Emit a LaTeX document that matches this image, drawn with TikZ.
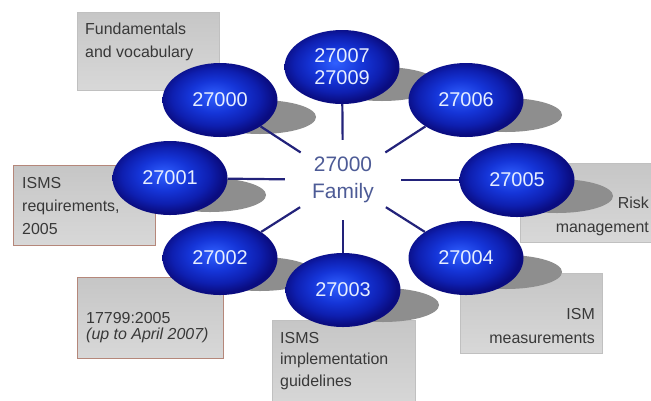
\documentclass[tikz,border=0pt]{standalone}
\usepackage{fontspec}
\setmainfont{Liberation Sans}
\usetikzlibrary{shapes.geometric,calc}
\definecolor{ellbright}{HTML}{3060FF}
\definecolor{ellmid}{HTML}{1535D8}
\definecolor{ellmid2}{HTML}{0E1FB0}
\definecolor{elldark}{HTML}{0A0C80}
\definecolor{shadgray}{HTML}{8E8E8E}
\definecolor{boxtop}{HTML}{C6C6C6}
\definecolor{boxbot}{HTML}{D8D8D8}
\definecolor{boxedge}{HTML}{C0C0C0}
\definecolor{brownedge}{HTML}{B5877A}
\definecolor{navyline}{HTML}{22227A}
\definecolor{famtext}{HTML}{4D5B96}
\definecolor{boxtext}{HTML}{383838}
\definecolor{elltext}{HTML}{E6EEFF}
\pgfdeclareradialshading{isoball}{\pgfpoint{-3bp}{3bp}}{color(0bp)=(ellbright); color(11bp)=(ellmid); color(19bp)=(ellmid2); color(25bp)=(elldark); color(50bp)=(elldark)}
\tikzset{
  ell/.style={ellipse, minimum width=115bp, minimum height=74bp, inner sep=0pt,
    shading=isoball, text=elltext, font=\fontsize{20}{22}\selectfont, align=center},
  shad/.style={ellipse, minimum width=112bp, minimum height=34bp, inner sep=0pt, fill=shadgray},
  gbox/.style={rectangle, anchor=north west, inner sep=0pt, top color=boxtop, bottom color=boxbot, draw=boxedge, line width=0.6bp},
  bbox/.style={gbox, draw=brownedge, line width=1.4bp},
  btext/.style={inner sep=0pt, text=boxtext, font=\fontsize{16}{23}\selectfont},
  conn/.style={draw=navyline, line width=2.2bp},
}
\begin{document}
\begin{tikzpicture}[x=1bp, y=-1bp]
\useasboundingbox (0,0) rectangle (651,400);
\clip (0,0) rectangle (651,400);
\fill[white] (0,0) rectangle (651,400);
% boxes
\node (b0) [gbox, minimum width=142bp, minimum height=78bp] at (77,12) {};
\node (b1) [bbox, minimum width=142bp, minimum height=80bp] at (13,165) {};
\node (b2) [bbox, minimum width=146bp, minimum height=81bp] at (77,277) {};
\node (b3) [gbox, minimum width=143bp, minimum height=90bp] at (272,320) {};
\node (b4) [gbox, minimum width=142bp, minimum height=80bp] at (460,273) {};
\node (b5) [gbox, minimum width=160bp, minimum height=79bp] at (520,163) {};
% box texts
\node (t0) [btext, anchor=north west, align=left] at (85,23) {Fundamentals\\and vocabulary};
\node (t1) [btext, anchor=north west, align=left] at (22,177) {ISMS\\requirements,\\2005};
\node (t2) [btext, anchor=north west, align=left, font=\fontsize{16}{16.5}\selectfont] at (86,312) {17799:2005\\\textit{(up to April 2007)}};
\node (t3) [btext, anchor=north west, align=left, font=\fontsize{16}{21.5}\selectfont] at (280,332) {ISMS\\implementation\\guidelines};
\node (t4) [btext, anchor=north east, align=right, font=\fontsize{16}{24}\selectfont] at (595,308) {ISM\\measurements};
\node (t5) [btext, anchor=north east, align=right, font=\fontsize{16}{24}\selectfont] at (649,197) {Risk\\management};
% shadows
\node (s0) [shad] at (260,117) {};
\node (s79) [shad] at (382,84) {};
\node (s6) [shad] at (506,115) {};
\node (s5) [shad] at (557,196) {};
\node (s1) [shad] at (210,195) {};
\node (s2) [shad] at (260,274) {};
\node (s4) [shad] at (506,272) {};
\node (s3) [shad] at (383,305) {};
% ellipses
\node (e0) [ell] at (220,100) {27000};
\node (e79) [ell] at (342,67) {27007\\27009};
\node (e6) [ell] at (466,100) {27006};
\node (e5) [ell] at (517,180) {27005};
\node (e1) [ell] at (170,178) {27001};
\node (e2) [ell] at (220,258) {27002};
\node (e3) [ell] at (343,290) {27003};
\node (e4) [ell] at (466,258) {27004};
% centre
\node (fam) [ellipse, minimum width=116bp, minimum height=80bp, inner sep=0pt, align=center,
  text=famtext, font=\fontsize{21}{27}\selectfont] at (343,180) {27000\\Family};
% connectors
\foreach \e in {e0,e79,e6,e5,e4,e3,e2,e1}{
  \draw[conn] (fam) -- (\e);
}
\end{tikzpicture}
\end{document}
